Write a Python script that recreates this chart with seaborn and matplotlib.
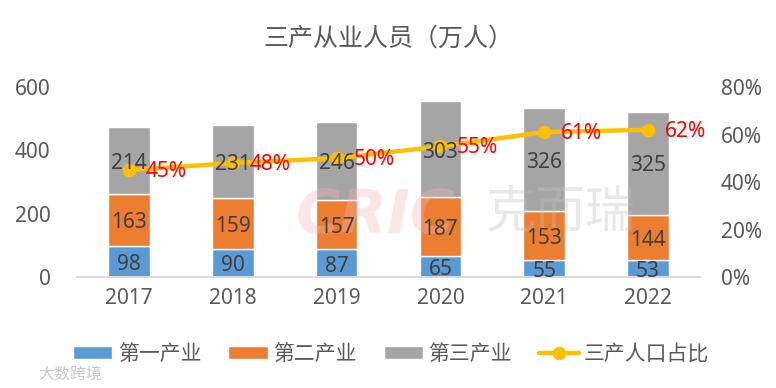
import matplotlib
matplotlib.use('Agg')
import matplotlib.pyplot as plt
import pandas as pd
import seaborn as sns

years = ['2017', '2018', '2019', '2020', '2021', '2022']
first = [98, 90, 87, 65, 55, 53]
second = [163, 159, 157, 187, 153, 144]
third = [214, 231, 246, 303, 326, 325]
share = [45, 48, 50, 55, 61, 62]

sns.set_theme(style='white')
plt.rcParams['font.family'] = ['Noto Sans', 'Noto Sans CJK SC', 'DejaVu Sans']

df = pd.DataFrame({'year': years, 'first': first, 'second': second, 'third': third, 'share': share})
df['b2'] = df['first'] + df['second']

fig = plt.figure(figsize=(7.76, 3.88), dpi=100)
ax = fig.add_axes([77 / 776, 1 - 277 / 388, 623 / 776, 190 / 388])

# Barras apiladas
sns.barplot(ax=ax, data=df, x='year', y='first', color='#5B9BD5', width=0.4, saturation=1, label='第一产业', legend=False)
sns.barplot(ax=ax, data=df, x='year', y='second', bottom=df['first'], color='#ED7D31', width=0.4, saturation=1, label='第二产业', legend=False)
sns.barplot(ax=ax, data=df, x='year', y='third', bottom=df['b2'], color='#A5A5A5', width=0.4, saturation=1, label='第三产业', legend=False)
ax.set_xlim(-0.5, 5.5)
ax.set_ylim(0, 600)
ax.set_yticks([0, 200, 400, 600])
ax.set_xlabel('')
ax.set_ylabel('')
ax.tick_params(axis='both', labelsize=15, labelcolor='#595959', length=0)
ax.tick_params(axis='x', pad=8)
ax.tick_params(axis='y', pad=19)

# Marcas de agua, encima de las barras pero debajo de las etiquetas
ax.text(296 / 776, 1 - 216 / 388, 'CRIC', ha='left', va='center', fontsize=44, fontweight='bold', style='italic',
        color='#F4B6BC', alpha=0.35, family='DejaVu Sans', transform=fig.transFigure)
ax.text(486 / 776, 1 - 213 / 388, '克而瑞', ha='left', va='center', fontsize=36, color='#BFBFBF', alpha=0.35,
        transform=fig.transFigure)

# Línea en el eje derecho
ax2 = ax.twinx()
sns.lineplot(ax=ax2, data=df, x='year', y='share', color='#FFC000', linewidth=3.2, marker='o',
             markersize=9, markeredgecolor='#FFC000', label='三产人口占比', legend=False)
ax2.set_ylim(0, 80)
ax2.set_yticks([0, 20, 40, 60, 80])
ax2.set_yticklabels(['0%', '20%', '40%', '60%', '80%'])
ax2.set_ylabel('')
ax2.tick_params(axis='y', labelsize=15, labelcolor='#595959', length=0, pad=15)

# Etiquetas encima de la línea
for i in range(len(years)):
    for y, value in [(first[i] / 2, first[i]),
                     (df['first'][i] + second[i] / 2, second[i]),
                     (df['b2'][i] + third[i] / 2, third[i])]:
        ax2.annotate(value, (i, y), xycoords=ax.transData, xytext=(0, -2), textcoords='offset points',
                     ha='center', va='center', fontsize=15, color='#404040')
    ax2.annotate(f'{share[i]}%', (i, share[i]), xytext=(12, -1), textcoords='offset points',
                 ha='left', va='center', fontsize=15, color='#FF0000')

for a in [ax, ax2]:
    for name, s in a.spines.items():
        s.set_visible(name == 'bottom')
    a.spines['bottom'].set_color('#D9D9D9')

# Leyenda
h1, l1 = ax.get_legend_handles_labels()
h2, l2 = ax2.get_legend_handles_labels()
fig.legend(h1 + h2, l1 + l2, loc='center', bbox_to_anchor=(391 / 776, 1 - 354 / 388), ncol=4, frameon=False,
           fontsize=15, labelcolor='#595959', handlelength=1.9, handleheight=0.6, handletextpad=0.25, columnspacing=1.3)

fig.text(388 / 776, 1 - 39 / 388, '三产从业人员（万人）', ha='center', va='center', fontsize=18, color='#595959')
fig.text(38 / 776, 1 - 375 / 388, '大数跨境', ha='left', va='center', fontsize=11.5, color='#C8C8C8')

plt.savefig('out.png', dpi=100)
